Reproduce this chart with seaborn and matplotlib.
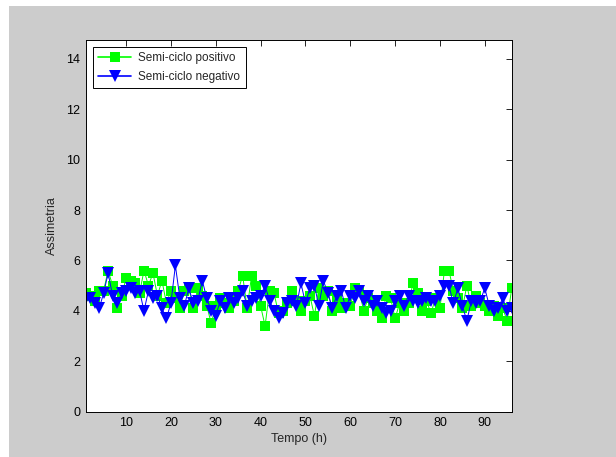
import matplotlib
matplotlib.use("Agg")
import matplotlib.pyplot as plt
from matplotlib.patches import Rectangle
import numpy as np
import pandas as pd
import seaborn as sns

# Hourly asymmetry for each half-cycle
tempo = list(range(1, 97))
positivo = [4.7, 4.6, 4.4, 4.8, 4.8, 5.6, 5.0, 4.1, 4.6, 5.3, 5.2, 5.1, 4.7, 5.6, 5.0, 5.5,
            4.6, 5.2, 4.3, 4.8, 4.5, 4.1, 4.8, 4.9, 4.1, 4.9, 4.6, 4.2, 3.5, 4.2, 4.5, 4.3,
            4.1, 4.4, 4.8, 5.4, 4.1, 5.4, 5.0, 4.2, 3.4, 4.8, 4.7, 3.9, 4.0, 4.3, 4.8, 4.4,
            4.0, 4.4, 4.6, 3.8, 4.9, 4.6, 4.8, 4.0, 4.5, 4.1, 4.3, 4.2, 4.9, 4.8, 4.0, 4.5,
            4.3, 4.0, 3.7, 4.6, 4.5, 3.7, 4.3, 4.0, 4.3, 5.1, 4.7, 4.0, 4.4, 3.9, 4.5, 4.1,
            5.6, 5.6, 4.8, 4.5, 4.1, 5.0, 4.2, 4.6, 4.3, 4.2, 4.0, 4.2, 3.8, 4.1, 3.6, 4.9]
negativo = [4.5, 4.5, 4.3, 4.1, 4.7, 5.5, 4.6, 4.3, 4.7, 4.8, 4.9, 4.7, 4.8, 4.0, 4.8, 4.5,
            4.6, 4.1, 3.7, 4.3, 5.8, 4.5, 4.2, 4.9, 4.3, 4.4, 5.2, 4.5, 4.0, 3.8, 4.4, 4.1,
            4.5, 4.3, 4.5, 4.8, 4.2, 4.4, 4.5, 4.6, 5.0, 4.4, 4.0, 3.7, 3.9, 4.3, 4.4, 4.2,
            5.1, 4.3, 4.9, 5.0, 4.2, 5.2, 4.7, 4.1, 4.6, 4.8, 4.1, 4.6, 4.5, 4.8, 4.4, 4.6,
            4.2, 4.4, 4.1, 3.9, 4.0, 4.4, 4.6, 4.2, 4.6, 4.4, 4.3, 4.4, 4.5, 4.4, 4.4, 4.6,
            5.0, 5.0, 4.3, 4.9, 4.2, 3.6, 4.4, 4.3, 4.4, 4.9, 4.2, 4.0, 4.1, 4.5, 4.0, 4.1]
x_ticks = [10, 20, 30, 40, 50, 60, 70, 80, 90]
y_ticks = [0, 2, 4, 6, 8, 10, 12, 14]

df = pd.DataFrame({"Tempo": tempo, "pos": positivo, "neg": negativo})

sns.set_style("white")
plt.rcParams["font.family"] = ["Liberation Sans", "DejaVu Sans"]
plt.rcParams["font.size"] = 9

fig = plt.figure(figsize=(6.16, 4.57), dpi=100, facecolor="white")
fig.patches.append(Rectangle((9 / 616, 0), 1 - 9 / 616, 1 - 6 / 457,
                             transform=fig.transFigure, facecolor="#cccccc",
                             edgecolor="none", zorder=-10))
ax = fig.add_axes([85.7 / 616, (457 - 411.6) / 457,
                   (511.7 - 85.7) / 616, (411.6 - 40) / 457])
ax.set_facecolor("white")

sns.lineplot(data=df, x="Tempo", y="pos", ax=ax, color="#00ff00", lw=0.7,
             marker="s", markersize=7, markeredgewidth=0, label="Semi-ciclo positivo")
sns.lineplot(data=df, x="Tempo", y="neg", ax=ax, color="#0000ff", lw=0.7,
             marker="v", markersize=8.5, markeredgewidth=0, label="Semi-ciclo negativo")

ax.set_xlim(1, 96)
ax.set_ylim(0, 14.75)
ax.set_xticks(x_ticks)
ax.set_yticks(y_ticks)
ax.tick_params(direction="in", length=4, width=0.6, top=True, right=True,
               labelsize=9, colors="black", pad=4)
for s in ax.spines.values():
    s.set_visible(True)
    s.set_color("black")
    s.set_linewidth(0.7)
ax.set_xlabel("Tempo (h)", fontsize=9, labelpad=3)
ax.set_ylabel("Assimetria", fontsize=9, labelpad=6)

leg = ax.legend(loc="upper left", fontsize=8.5, frameon=True, fancybox=False,
                borderaxespad=0.6, handlelength=2.8, handletextpad=0.6,
                borderpad=0.45, labelspacing=0.55)
leg.get_frame().set_edgecolor("black")
leg.get_frame().set_linewidth(0.7)
leg.get_frame().set_alpha(1)
for line in leg.get_lines():
    line.set_linewidth(1.2)

fig.savefig("out.png", dpi=100, facecolor=fig.get_facecolor())
